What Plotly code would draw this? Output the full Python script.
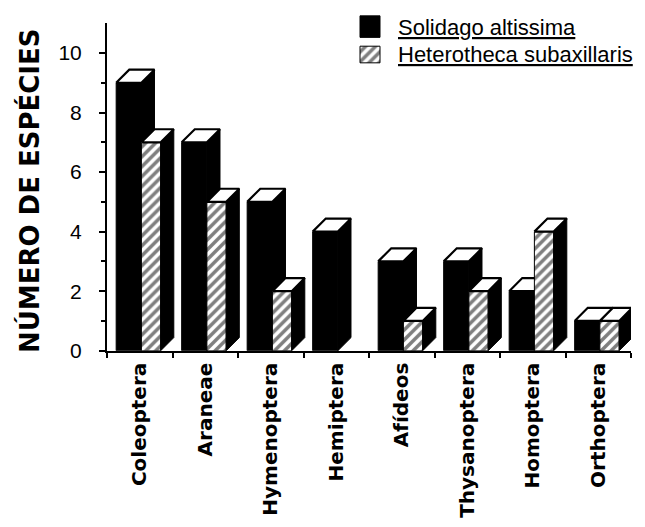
import plotly.graph_objects as go

# ---------------- data ----------------
categories = ["Coleoptera", "Araneae", "Hymenoptera", "Hemiptera",
              "Afídeos", "Thysanoptera", "Homoptera", "Orthoptera"]
solidago = [9, 7, 5, 4, 3, 3, 2, 1]
heterotheca = [7, 5, 2, 0, 1, 2, 4, 1]
y_tick_values = [0, 2, 4, 6, 8, 10]
y_minor_values = [1, 3, 5, 7, 9]
series_names = ["Solidago altissima", "Heterotheca subaxillaris"]
y_title = "NÚMERO DE ESPÉCIES"

# ---------------- geometry / style ----------------
W, H = 645, 527
X0_PX, X1_PX = 99, 623        # x axis extent in pixels
Y0_PX, YTOP_PX = 350, 15.6    # pixel of value 0 and of top of axis
Y_MAX = 11

BL, BR = 0.14, 0.525          # black front face inside a category slot
HL, HR = 0.525, 0.82          # hatched front face
DX, DY = 0.2, 0.44            # 3-D depth offset (axis units)

HATCH = dict(shape="/", fgcolor="black", bgcolor="white", size=7, solidity=0.5)

idx = list(range(len(categories)))


def faces(lefts, rights, heights):
    sx, sy, tx, ty = [], [], [], []
    for x0, x1, h in zip(lefts, rights, heights):
        if h <= 0:
            continue
        sx += [x1, x1 + DX, x1 + DX, x1, x1, None]
        sy += [0, DY, h + DY, h, 0, None]
        tx += [x0, x1, x1 + DX, x0 + DX, x0, None]
        ty += [h, h, h + DY, h + DY, h, None]
    return sx, sy, tx, ty


fig = go.Figure()

# ---- Solidago (black) on base axes
b_left = [i + BL for i in idx]
b_right = [i + BR for i in idx]
fig.add_trace(go.Bar(
    x=[i + (BL + BR) / 2 for i in idx], y=solidago, width=BR - BL,
    marker=dict(color="black",
                line=dict(color="black", width=[1 if v > 0 else 0 for v in solidago])),
    name=series_names[0], showlegend=False, cliponaxis=False,
    xaxis="x", yaxis="y"))
sx, sy, tx, ty = faces(b_left, b_right, solidago)
fig.add_trace(go.Scatter(x=sx, y=sy, mode="lines", fill="toself",
                         fillcolor="black", line=dict(color="black", width=1),
                         showlegend=False, hoverinfo="skip", cliponaxis=False,
                         xaxis="x", yaxis="y"))
fig.add_trace(go.Scatter(x=tx, y=ty, mode="lines", fill="toself",
                         fillcolor="white", line=dict(color="black", width=2.2),
                         showlegend=False, hoverinfo="skip", cliponaxis=False,
                         xaxis="x", yaxis="y"))

# ---- Heterotheca (hatched) on overlay axes (drawn in front)
h_left = [i + HL for i in idx]
h_right = [i + HR for i in idx]
fig.add_trace(go.Bar(
    x=[i + (HL + HR) / 2 for i in idx], y=heterotheca, width=HR - HL,
    marker=dict(color="white",
                line=dict(color="black", width=[1 if v > 0 else 0 for v in heterotheca]),
                pattern=HATCH),
    name=series_names[1], showlegend=False, cliponaxis=False,
    xaxis="x2", yaxis="y2"))
sx, sy, tx, ty = faces(h_left, h_right, heterotheca)
fig.add_trace(go.Scatter(x=sx, y=sy, mode="lines", fill="toself",
                         fillcolor="black", line=dict(color="black", width=1),
                         showlegend=False, hoverinfo="skip", cliponaxis=False,
                         xaxis="x2", yaxis="y2"))
fig.add_trace(go.Scatter(x=tx, y=ty, mode="lines", fill="toself",
                         fillcolor="white", line=dict(color="black", width=2.2),
                         showlegend=False, hoverinfo="skip", cliponaxis=False,
                         xaxis="x2", yaxis="y2"))

# ---- legend swatches on a pixel-space subplot
fig.add_trace(go.Scatter(x=[352, 372, 372, 352, 352], y=[8, 8, 30, 30, 8],
                         mode="lines", fill="toself", fillcolor="black",
                         line=dict(color="black", width=1),
                         showlegend=False, hoverinfo="skip",
                         xaxis="x3", yaxis="y3"))
fig.add_trace(go.Scatter(x=[352, 372, 372, 352, 352], y=[39, 39, 56, 56, 39],
                         mode="lines", fill="toself", fillpattern=HATCH,
                         line=dict(color="black", width=1),
                         showlegend=False, hoverinfo="skip",
                         xaxis="x3", yaxis="y3"))

fig.add_annotation(x=388 / W, y=(H - 20) / H, xref="paper", yref="paper",
                   xanchor="left", yanchor="middle", showarrow=False,
                   text="<u>" + series_names[0] + "</u>",
                   font=dict(family="Liberation Sans", size=22, color="black"))
fig.add_annotation(x=388 / W, y=(H - 48) / H, xref="paper", yref="paper",
                   xanchor="left", yanchor="middle", showarrow=False,
                   text="<u>" + series_names[1] + "</u>",
                   font=dict(family="Liberation Sans", size=22, color="black"))

fig.add_annotation(x=21 / W, y=(H - 187) / H, xref="paper", yref="paper",
                   xanchor="center", yanchor="middle", showarrow=False,
                   textangle=-90, text=y_title,
                   font=dict(family="DejaVu Sans", size=26, color="black",
                             weight="bold"))

xdom = [X0_PX / W, X1_PX / W]
ydom = [(H - Y0_PX) / H, (H - YTOP_PX) / H]
n = len(categories)

fig.update_layout(
    width=W, height=H, margin=dict(l=0, r=0, t=0, b=0),
    paper_bgcolor="white", plot_bgcolor="rgba(0,0,0,0)",
    barmode="overlay", showlegend=False,
    xaxis=dict(domain=xdom, range=[0, n], anchor="y",
               tickmode="array", tickvals=[i + 0.5 for i in idx],
               ticktext=categories, tickangle=-90, ticks="",
               ticklabelstandoff=2,
               tickfont=dict(family="DejaVu Sans", size=20, color="black",
                             weight="bold"),
               minor=dict(tickmode="array", tickvals=list(range(n + 1)),
                          ticks="outside", ticklen=5, tickwidth=1.5,
                          tickcolor="black", showgrid=False),
               showline=True, linecolor="black", linewidth=2,
               showgrid=False, zeroline=False, fixedrange=True),
    yaxis=dict(domain=ydom, range=[0, Y_MAX], anchor="x",
               tickmode="array", tickvals=y_tick_values,
               ticks="outside", ticklen=6, tickwidth=1.5, tickcolor="black",
               ticklabelstandoff=13,
               tickfont=dict(family="Liberation Sans", size=21, color="black"),
               minor=dict(tickmode="array", tickvals=y_minor_values,
                          ticks="outside", ticklen=4, tickwidth=1.5,
                          tickcolor="black", showgrid=False),
               showline=True, linecolor="black", linewidth=2,
               showgrid=False, zeroline=False, fixedrange=True),
    xaxis2=dict(overlaying="x", range=[0, n], anchor="y2", visible=False,
                fixedrange=True),
    yaxis2=dict(overlaying="y", range=[0, Y_MAX], anchor="x2", visible=False,
                fixedrange=True),
    xaxis3=dict(domain=[0, 1], range=[0, W], anchor="y3", visible=False,
                fixedrange=True),
    yaxis3=dict(domain=[0, 1], range=[H, 0], anchor="x3", visible=False,
                fixedrange=True),
)

fig.write_html("out.html")
